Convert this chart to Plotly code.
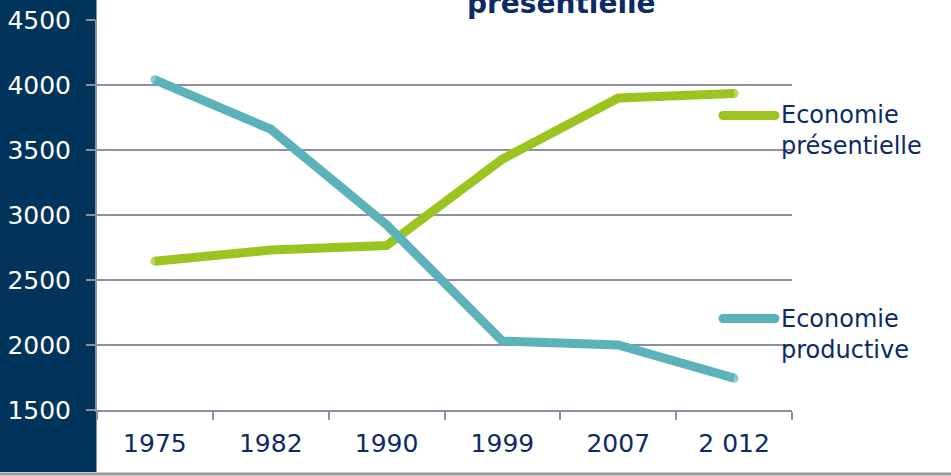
import plotly.graph_objects as go

years = ["1975", "1982", "1990", "1999", "2007", "2 012"]
presentielle = [2645, 2730, 2765, 3430, 3900, 3935]
productive = [4040, 3660, 2925, 2030, 2000, 1745]

NAVY = "#01345a"
TEXT = "#0c2a66"
GREEN = "#9cc420"
TEAL = "#5bb2b9"
GRID = "#8e90a2"
FONT = "DejaVu Sans"
LW = 9

# round the two ends of each series line
end_sizes = [LW] + [0] * (len(years) - 2) + [LW]

fig = go.Figure()
fig.add_trace(go.Scatter(x=years, y=presentielle, mode="lines+markers",
                         line=dict(color=GREEN, width=LW),
                         marker=dict(color=GREEN, size=end_sizes, line=dict(width=0)),
                         name="Economie présentielle", showlegend=False))
fig.add_trace(go.Scatter(x=years, y=productive, mode="lines+markers",
                         line=dict(color=TEAL, width=LW),
                         marker=dict(color=TEAL, size=end_sizes, line=dict(width=0)),
                         name="Economie productive", showlegend=False))

W, H = 951, 476
L, R, T, B = 97, 159, 20, 66
pw, ph = W - L - R, H - T - B


def px(x):
    return (x - L) / pw


def py(y):
    return (H - B - y) / ph


def swatch(x0, x1, y, color):
    r = LW / 2
    items = [dict(type="line", xref="paper", yref="paper", x0=px(x0), x1=px(x1),
                  y0=py(y), y1=py(y), line=dict(color=color, width=LW))]
    for cx in (x0, x1):
        items.append(dict(type="circle", xref="paper", yref="paper",
                          x0=px(cx - r), x1=px(cx + r), y0=py(y + r), y1=py(y - r),
                          fillcolor=color, line=dict(width=0)))
    return items


shapes = [
    # dark band behind the value axis
    dict(type="rect", xref="paper", yref="paper", x0=px(0), x1=px(96.5),
         y0=py(472), y1=py(-5), fillcolor=NAVY, line=dict(width=0), layer="below"),
    # bottom rule
    dict(type="line", xref="paper", yref="paper", x0=px(0), x1=px(W),
         y0=py(474), y1=py(474), line=dict(color="#9a9a9a", width=3)),
]
shapes += swatch(723, 775, 115.5, GREEN)
shapes += swatch(723, 775, 318.5, TEAL)

annotations = [
    dict(text="Economie<br>présentielle", xref="paper", yref="paper",
         x=px(779), y=py(130), xanchor="left", yanchor="middle", align="left",
         showarrow=False, font=dict(family=FONT, size=24, color=TEXT)),
    dict(text="Economie<br>productive", xref="paper", yref="paper",
         x=px(779), y=py(334), xanchor="left", yanchor="middle", align="left",
         showarrow=False, font=dict(family=FONT, size=24, color=TEXT)),
    dict(text="<b>présentielle</b>", xref="paper", yref="paper",
         x=px(561), y=py(22), xanchor="center", yanchor="bottom",
         showarrow=False, font=dict(family=FONT, size=28, color=TEXT)),
]

fig.update_layout(
    width=W, height=H,
    margin=dict(l=L, r=R, t=T, b=B),
    paper_bgcolor="white", plot_bgcolor="white",
    shapes=shapes, annotations=annotations,
    showlegend=False,
    xaxis=dict(type="category", range=[-0.5, 5.5], tickson="boundaries",
               showgrid=False, showline=True, linecolor=GRID, linewidth=2,
               ticks="outside", ticklen=8, tickwidth=2, tickcolor=GRID,
               tickfont=dict(family=FONT, size=25, color=TEXT),
               ticklabelstandoff=10, automargin=False, fixedrange=True),
    yaxis=dict(range=[1500, 4500], dtick=500, showgrid=True, gridcolor=GRID,
               gridwidth=2, showline=True, linecolor=GRID, linewidth=2,
               ticks="outside", ticklen=9, tickwidth=2, tickcolor=GRID,
               tickfont=dict(family=FONT, size=25, color="white"),
               ticklabelstandoff=10, zeroline=False, automargin=False,
               fixedrange=True),
)

fig.write_html("out.html")
